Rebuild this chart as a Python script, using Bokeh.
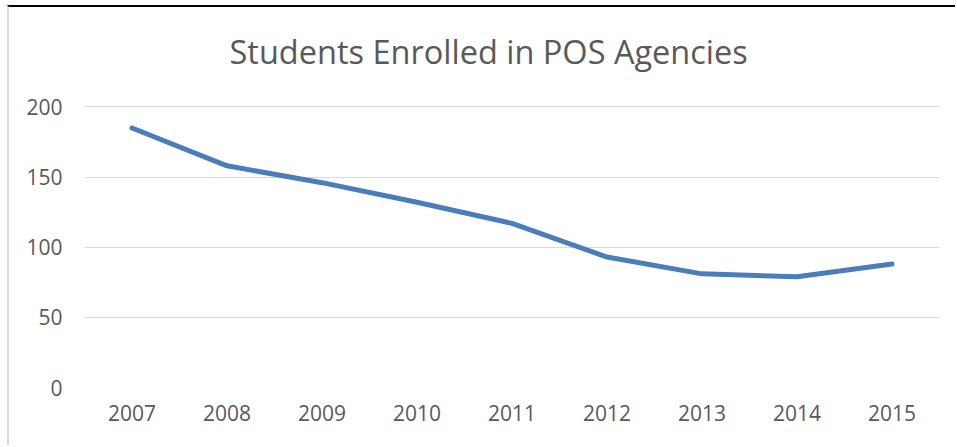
from bokeh.plotting import figure
from bokeh.embed import file_html
from bokeh.resources import INLINE
from bokeh.models import ColumnDataSource, Title

title_text = "Students Enrolled in POS Agencies"
years = ["2007", "2008", "2009", "2010", "2011", "2012", "2013", "2014", "2015"]
students = [185, 158, 146, 132, 117, 93, 81, 79, 88]
y_ticks = [0, 50, 100, 150, 200]

src = ColumnDataSource(data=dict(year=years, students=students))

p = figure(width=948, height=440, x_range=years, y_range=(0, 201),
           output_backend="svg", toolbar_location=None,
           min_border_left=75, min_border_right=18, min_border_top=98, min_border_bottom=60,
           styles={"margin-top": "5px", "margin-left": "7px",
                   "border-top": "2px solid #000000", "border-left": "2px solid #d9d9d9"})
p.title.text = ""

# spacer panel between frame and title (closest to the frame)
p.add_layout(Title(text=" ", text_font_size="10px", standoff=19), "above")
# main title
p.add_layout(Title(text=title_text, text_font="Open Sans", text_font_style="normal",
                   text_font_size="32.5px", text_color="#595959",
                   align="left", offset=145, standoff=0), "above")

p.line("year", "students", source=src, line_color="#4a7ebb", line_width=5,
       line_cap="round", line_join="round")

p.outline_line_color = None
p.background_fill_color = "white"
p.border_fill_color = "white"

p.xgrid.grid_line_color = None
p.ygrid.grid_line_color = "#d9d9d9"
p.ygrid.grid_line_width = 1
p.yaxis.ticker = y_ticks

for ax in (p.xaxis, p.yaxis):
    ax.axis_line_color = None
    ax.major_tick_line_color = None
    ax.minor_tick_line_color = None
    ax.major_tick_in = 0
    ax.major_tick_out = 0
    ax.major_label_text_font = "Open Sans"
    ax.major_label_text_font_size = "21px"
    ax.major_label_text_color = "#595959"

p.yaxis.major_label_standoff = 22
p.xaxis.major_label_standoff = 17

open("out.html", "w").write(file_html(p, INLINE))
